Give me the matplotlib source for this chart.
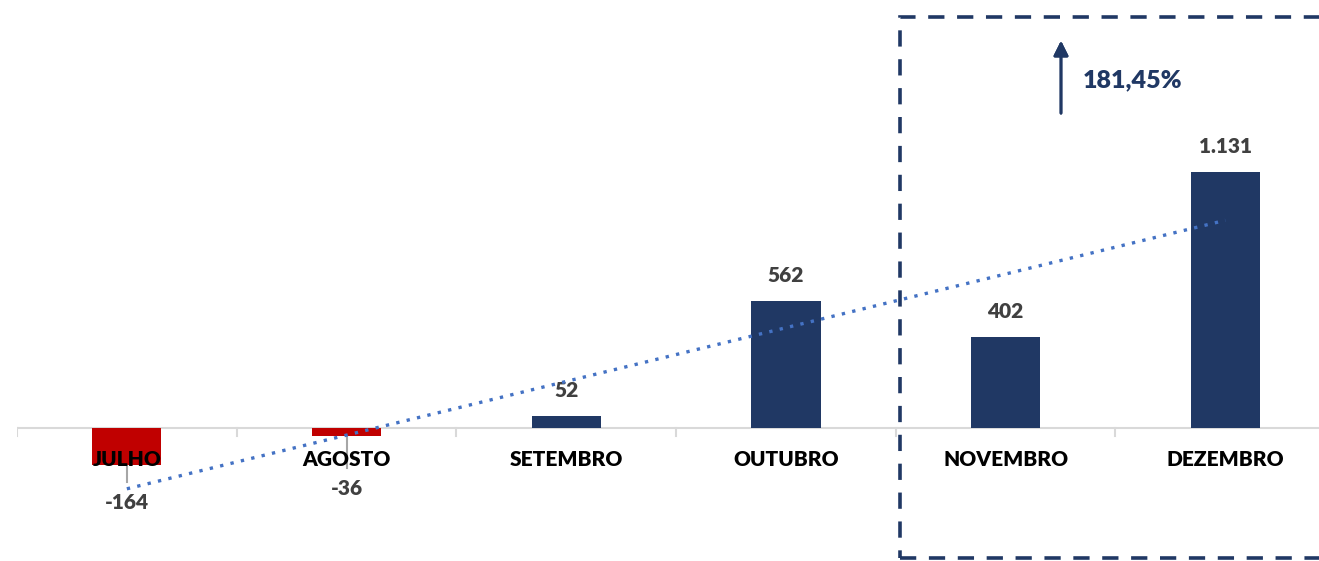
import numpy as np
import matplotlib.pyplot as plt
from matplotlib.patches import Rectangle

# dados do gráfico
meses = ['JULHO', 'AGOSTO', 'SETEMBRO', 'OUTUBRO', 'NOVEMBRO', 'DEZEMBRO']
valores = [-164, -36, 52, 562, 402, 1131]
rotulos = ['-164', '-36', '52', '562', '402', '1.131']
variacao = '181,45%'

navy = '#203864'
red = '#C00000'
plt.rcParams['font.family'] = ['Lato', 'DejaVu Sans']

W, H = 1319, 561
fig = plt.figure(figsize=(W / 100, H / 100), dpi=100)
# eixo vai de x=17px ate ~1335px (sai da imagem a direita)
ax = fig.add_axes([17 / W, 0, (6 * 219.7) / W, 1])
x = np.arange(len(meses))
cores = [red if v < 0 else navy for v in valores]
ax.bar(x, valores, width=0.315, color=cores, zorder=2)

ax.set_xlim(-0.5, 5.5)
ax.set_ylim(-587, 1890)
for s in ax.spines.values():
    s.set_visible(False)
ax.axhline(0, color='#D9D9D9', lw=1.5, zorder=1)
ax.set_yticks([])
ax.set_xticks(x)
ax.set_xticklabels([])
ax.tick_params(axis='x', length=0)
for i in np.arange(-0.5, 6, 1):
    ax.plot([i, i], [0, -33], color='#D9D9D9', lw=1.5, zorder=1)

for xi, m in zip(x, meses):
    ax.text(xi, -140, m, ha='center', va='center', fontsize=15,
            fontweight='heavy', color='black', zorder=4)

# rotulos de dados
neg_y = {0: -327, 1: -265}
for xi, v, r in zip(x, valores, rotulos):
    if v >= 0:
        ax.text(xi, v + 70, r, ha='center', va='bottom', fontsize=15,
                fontweight='heavy', color='#404040')
    else:
        ax.text(xi, neg_y[xi], r, ha='center', va='center',
                fontsize=15, fontweight='heavy', color='#404040')
ax.plot([0, 0], [-164, -240], color='#A6A6A6', lw=1.5, zorder=1)
ax.plot([1, 1], [-36, -177], color='#A6A6A6', lw=1.5, zorder=1)

# linha de tendencia
coef = np.polyfit(x, valores, 1)
ax.plot(x, np.polyval(coef, x), ls=(0, (1, 2.2)), color='#4472C4', lw=2.4,
        zorder=3)

# caixa tracejada
fig.patches.append(Rectangle((900 / W, 3 / H), 500 / W, 541 / H,
                             transform=fig.transFigure, fill=False,
                             edgecolor=navy, lw=2.6, ls=(0, (4.5, 3.5))))
fig.patches[-1].set_zorder(5)

# seta e variacao
fig.add_artist(plt.annotate('', xy=(1061 / W, 1 - 38 / H),
                            xytext=(1061 / W, 1 - 116 / H),
                            xycoords='figure fraction',
                            arrowprops=dict(arrowstyle='-|>', color=navy,
                                            lw=2, mutation_scale=22)))
fig.text(1083 / W, 1 - 80 / H, variacao, ha='left', va='center',
         fontsize=18, fontweight='heavy', color=navy)

fig.savefig('out.png', dpi=100)
